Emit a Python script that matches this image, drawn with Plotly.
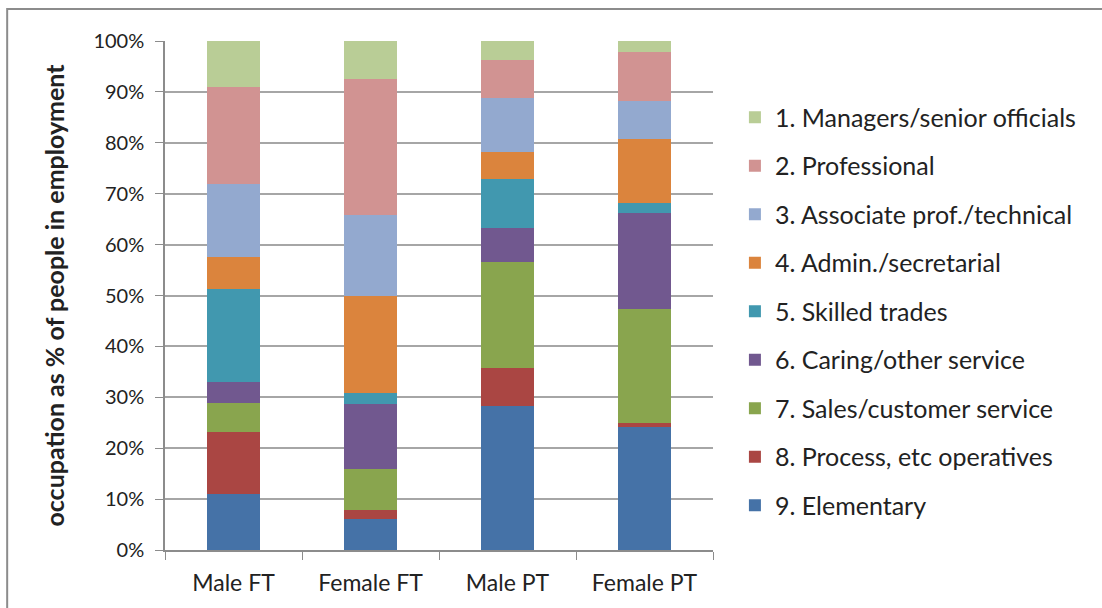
import plotly.graph_objects as go

groups = ["Male FT", "Female FT", "Male PT", "Female PT"]

# occupation shares (% of people in employment), bottom of stack first
elementary = [11.1, 6.0, 28.3, 24.2]
process_ops = [12.1, 1.9, 7.5, 0.8]
sales = [5.7, 8.0, 20.7, 22.3]
caring = [4.2, 12.8, 6.8, 19.0]
skilled = [18.1, 2.1, 9.6, 1.8]
admin = [6.3, 19.2, 5.3, 12.6]
associate = [14.5, 15.8, 10.7, 7.5]
professional = [19.0, 26.7, 7.4, 9.6]
managers = [9.0, 7.5, 3.7, 2.2]

series = [
    ("9. Elementary", elementary, "#4572a7"),
    ("8. Process, etc operatives", process_ops, "#aa4643"),
    ("7. Sales/customer service", sales, "#89a54e"),
    ("6. Caring/other service", caring, "#71588f"),
    ("5. Skilled trades", skilled, "#4198af"),
    ("4. Admin./secretarial", admin, "#db843d"),
    ("3. Associate prof./technical", associate, "#93a9cf"),
    ("2. Professional", professional, "#d19392"),
    ("1. Managers/senior officials", managers, "#b9cd96"),
]

font = "Lato, 'Open Sans', sans-serif"

fig = go.Figure()
for i, (name, vals, col) in enumerate(series):
    fig.add_trace(go.Bar(x=groups, y=[v / 100 for v in vals], name=name,
                         marker=dict(color=col, line=dict(width=0)),
                         legendgroup=name, legendrank=len(series) - i))

fig.update_layout(
    barmode="stack",
    bargap=0.61,
    width=1102, height=608,
    margin=dict(l=165, r=389, t=41, b=58),
    plot_bgcolor="white", paper_bgcolor="white",
    font=dict(family=font, size=19, color="#222222"),
    legend=dict(traceorder="grouped", tracegroupgap=13,
                x=1.04, y=0.895, xanchor="left", yanchor="top",
                font=dict(size=25), itemwidth=30),
    showlegend=True,
)
fig.update_yaxes(range=[0, 1], tickformat=".0%", dtick=0.1,
                 tickfont=dict(size=20), ticklabelstandoff=7,
                 showgrid=True, gridcolor="#a6a6a6", gridwidth=1.5,
                 showline=True, linecolor="#8c8c8c", linewidth=1.5,
                 ticks="outside", ticklen=8, tickcolor="#8c8c8c",
                 zeroline=False, automargin=False,
                 title=dict(text="<b>occupation as % of people in employment</b>",
                            font=dict(size=25), standoff=22))
fig.update_xaxes(showline=True, linecolor="#8c8c8c", linewidth=1.5,
                 tickfont=dict(size=23), automargin=False,
                 ticks="outside", ticklen=8, tickcolor="#8c8c8c",
                 tickson="boundaries", ticklabelstandoff=12)

# chart area border
fig.add_shape(type="rect", xref="paper", yref="paper",
              x0=-0.288, x1=1.75, y0=-0.2, y1=1.063,
              line=dict(color="#8c8c8c", width=2), fillcolor="rgba(0,0,0,0)",
              layer="below")

# page body has a default 8px margin; drop it so the figure sits at 0,0
fig.write_html("out.html", config={"displayModeBar": False},
               post_script="document.body.style.margin='0px';")
